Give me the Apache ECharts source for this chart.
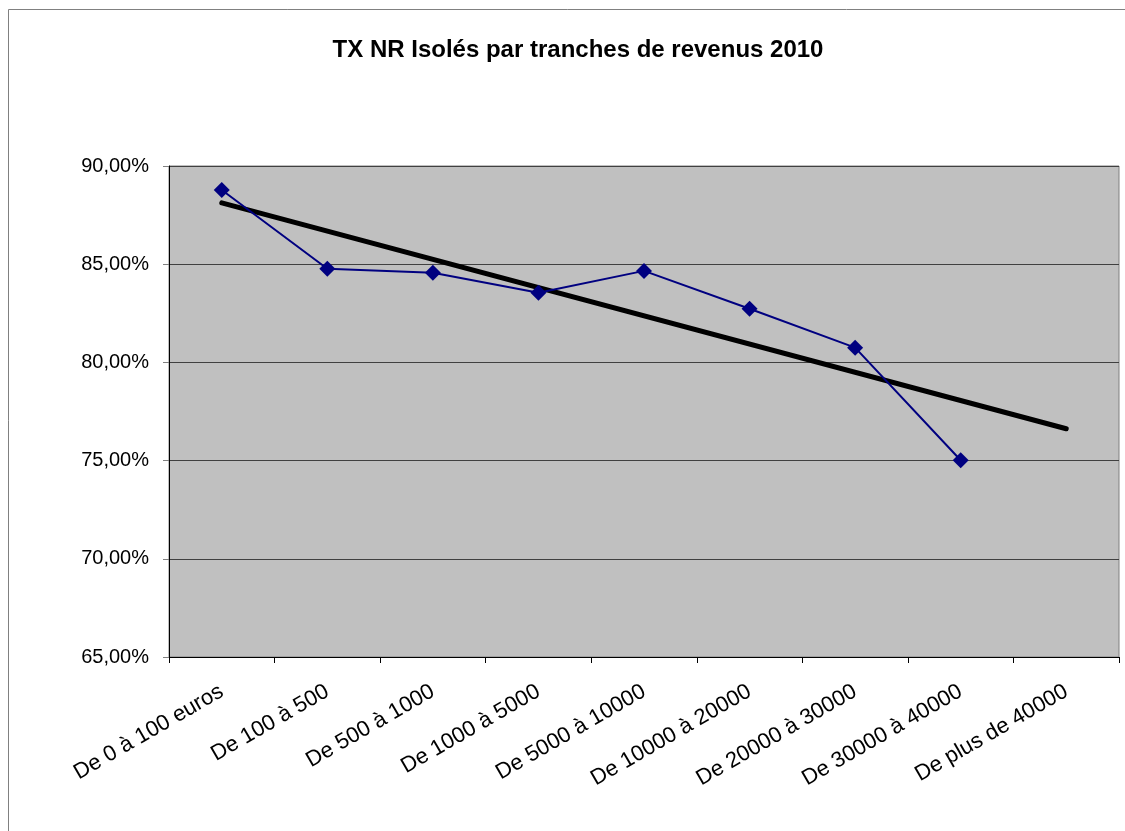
<!DOCTYPE html>
<html>
<head>
<meta charset="utf-8">
<script src="https://cdn.jsdelivr.net/npm/echarts@6/dist/echarts.min.js"></script>
<style>
  html, body { margin: 0; padding: 0; background: #fff; }
  #chart { width: 1125px; height: 831px; }
</style>
</head>
<body>
<div id="chart"></div>
<script>
// tranches de revenus
const categories = ['De 0 à 100 euros', 'De 100 à 500', 'De 500 à 1000', 'De 1000 à 5000',
  'De 5000 à 10000', 'De 10000 à 20000', 'De 20000 à 30000', 'De 30000 à 40000', 'De plus de 40000'];
// taux NR isolés (%)
const taux = [88.78, 84.77, 84.57, 83.55, 84.66, 82.73, 80.75, 75.02, null];
// courbe de tendance, début et fin
const tendance = [88.12, null, null, null, null, null, null, null, 76.62];
const yTicks = { min: 65, max: 90, interval: 5 };

const myChart = echarts.init(document.getElementById('chart'));

const fmt = v => v.toFixed(2).replace('.', ',') + '%';

myChart.setOption({
  animation: false,
  backgroundColor: '#fff',
  title: {
    text: 'TX NR Isolés par tranches de revenus 2010',
    left: 573, top: 33, textAlign: 'center',
    textStyle: { fontFamily: 'Liberation Sans', fontSize: 24, fontWeight: 'bold', color: '#000' }
  },
  graphic: [{
    type: 'rect', z: -10,
    shape: { x: 8.5, y: 9.5, width: 1200, height: 900 },
    style: { fill: 'none', stroke: '#808080', lineWidth: 1 }
  }],
  grid: { left: 169, right: 6, top: 166, bottom: 174, backgroundColor: '#C0C0C0', show: true, borderColor: '#808080', borderWidth: 1 },
  xAxis: {
    type: 'category', data: categories, boundaryGap: true,
    axisLine: { lineStyle: { color: '#000', width: 1 } },
    axisTick: { show: true, length: 6, lineStyle: { color: '#000' } },
    axisLabel: { rotate: 30, interval: 0, margin: 33, fontFamily: 'Liberation Sans', fontSize: 22, color: '#000' }
  },
  yAxis: {
    type: 'value', min: yTicks.min, max: yTicks.max, interval: yTicks.interval,
    axisLine: { show: true, lineStyle: { color: '#000', width: 1 } },
    axisTick: { show: true, length: 6, lineStyle: { color: '#808080' } },
    splitLine: { lineStyle: { color: '#404040', width: 1 } },
    axisLabel: { formatter: fmt, margin: 20, fontFamily: 'Liberation Sans', fontSize: 20, color: '#000' }
  },
  series: [{
    type: 'line', data: taux,
    symbol: 'diamond', symbolSize: 16,
    lineStyle: { color: '#000080', width: 2 },
    itemStyle: { color: '#000080' },
    z: 3
  }, {
    type: 'line', data: tendance, connectNulls: true,
    symbol: 'none',
    lineStyle: { color: '#000', width: 5, cap: 'round' },
    z: 2
  }]
});
</script>
</body>
</html>
